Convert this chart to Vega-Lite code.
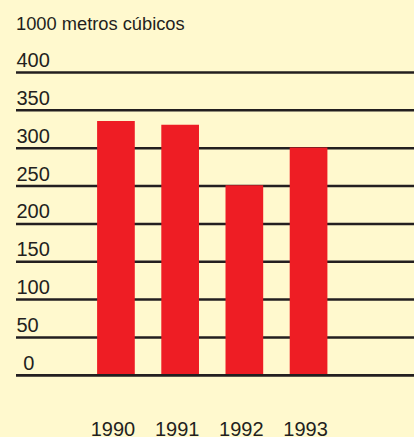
{
  "$schema": "https://vega.github.io/schema/vega-lite/v6.json",
  "width": 398,
  "height": 302.8,
  "autosize": {"type": "none"},
  "padding": {"left": 16, "top": 72.5, "right": 0, "bottom": 61.7},
  "background": "#FFF9CE",
  "config": {"view": {"stroke": null}},
  "title": {
    "text": "1000 metros cúbicos",
    "anchor": "start",
    "frame": "group",
    "baseline": "alphabetic",
    "offset": 2.2,
    "font": "Liberation Sans",
    "fontSize": 18.3,
    "fontWeight": "normal",
    "color": "#231F20"
  },
  "datasets": {
    "bars": [
      {"year": "1990", "value": 336},
      {"year": "1991", "value": 331},
      {"year": "1992", "value": 251},
      {"year": "1993", "value": 301}
    ],
    "grid": [
      {"value": 0}, {"value": 50}, {"value": 100}, {"value": 150}, {"value": 200},
      {"value": 250}, {"value": 300}, {"value": 350}, {"value": 400}
    ],
    "base": [{"value": 0}]
  },
  "encoding": {
    "y": {
      "field": "value",
      "type": "quantitative",
      "scale": {"domain": [0, 400], "nice": false},
      "axis": {
        "title": null,
        "values": [0, 50, 100, 150, 200, 250, 300, 350, 400],
        "domain": false,
        "ticks": false,
        "tickSize": 0,
        "grid": false,
        "labelAlign": "left",
        "labelBaseline": "alphabetic",
        "labelPadding": {"condition": {"test": "datum.value === 0", "value": -6.7}, "value": 0},
        "labelOffset": -6,
        "labelFlush": false,
        "labelOverlap": false,
        "labelFont": "Liberation Sans",
        "labelFontSize": 20,
        "labelColor": "#231F20"
      }
    }
  },
  "layer": [
    {
      "data": {"name": "grid"},
      "mark": {"type": "rule", "color": "#231F20", "strokeWidth": 2.5},
      "encoding": {}
    },
    {
      "data": {"name": "bars"},
      "mark": {"type": "bar", "color": "#EE1D24"},
      "encoding": {
        "x": {
          "field": "year",
          "type": "ordinal",
          "scale": {"range": [81.1, 311.4], "paddingInner": 0.413, "paddingOuter": 0},
          "axis": {
            "title": null,
            "domain": false,
            "ticks": false,
            "tickSize": 0,
            "labelAngle": 0,
            "labelPadding": 59.7,
            "labelBaseline": "alphabetic",
            "labelOffset": -3,
            "labelFont": "Liberation Sans",
            "labelFontSize": 20,
            "labelColor": "#231F20"
          }
        }
      }
    },
    {
      "data": {"name": "base"},
      "mark": {"type": "rule", "color": "#231F20", "strokeWidth": 2.5},
      "encoding": {}
    }
  ]
}
